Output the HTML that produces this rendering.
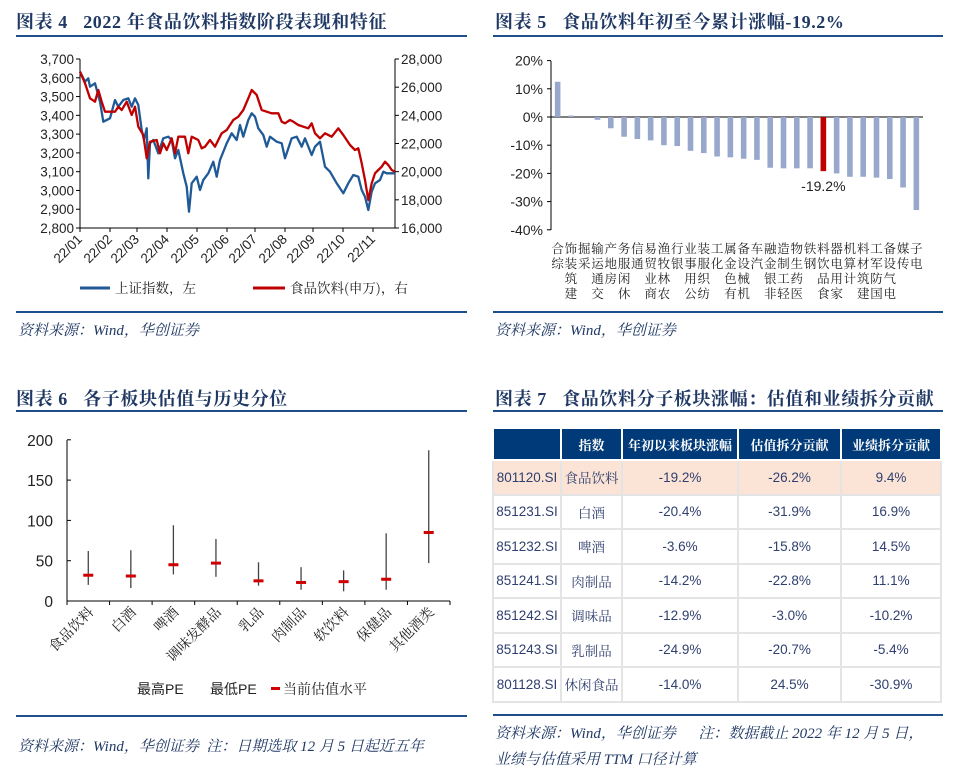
<!DOCTYPE html>
<html><head><meta charset="utf-8">
<style>
*{margin:0;padding:0;box-sizing:border-box}
body{width:957px;height:777px;background:#fff;position:relative;overflow:hidden;font-family:"Liberation Sans","Noto Sans CJK SC",sans-serif}
.t{position:absolute;font-family:"Liberation Serif","Noto Serif CJK SC",serif;font-weight:bold;font-size:18px;letter-spacing:0.6px;color:#1F3864;white-space:nowrap}
.ln{position:absolute;height:2px;background:#1F4E8C}
.src{position:absolute;font-family:"Liberation Serif","Noto Serif CJK SC",serif;font-style:italic;font-size:15px;color:#1F3864;white-space:nowrap}
table{position:absolute;left:492px;top:427px;width:450px;border-collapse:collapse;font-size:13.5px;color:#2F3F6F}
td{border:2px solid #e4e4e4;height:34.5px;text-align:center;padding:0}
th{background:#003A78;color:#fff;border:2px solid #fff;height:32px;font-family:"Liberation Serif","Noto Serif CJK SC",serif;font-size:13px}
td.c{font-family:"Noto Serif CJK SC",serif}
tr.h td{background:#FBE3D6}
</style></head><body>
<div class="t" style="left:16px;top:8px">图表 4&nbsp;&nbsp;&nbsp;2022 年食品饮料指数阶段表现和特征</div>
<div class="ln" style="left:16px;top:35px;width:451px"></div>
<div class="t" style="left:495px;top:8px">图表 5&nbsp;&nbsp;&nbsp;食品饮料年初至今累计涨幅-19.2%</div>
<div class="ln" style="left:493px;top:35px;width:450px"></div>
<div class="ln" style="left:16px;top:311px;width:451px"></div>
<div class="ln" style="left:493px;top:311px;width:450px"></div>
<div class="src" style="left:18px;top:319px">资料来源：Wind，华创证券</div>
<div class="src" style="left:495px;top:319px">资料来源：Wind，华创证券</div>
<div class="t" style="left:16px;top:385px">图表 6&nbsp;&nbsp;&nbsp;各子板块估值与历史分位</div>
<div class="ln" style="left:16px;top:410px;width:451px"></div>
<div class="t" style="left:495px;top:385px">图表 7&nbsp;&nbsp;&nbsp;食品饮料分子板块涨幅：估值和业绩拆分贡献</div>
<div class="ln" style="left:493px;top:410px;width:450px"></div>
<div class="ln" style="left:16px;top:715px;width:451px"></div>
<div class="ln" style="left:493px;top:714px;width:450px"></div>
<div class="src" style="left:18px;top:735px">资料来源：Wind，华创证券&nbsp;&nbsp;注：日期选取 12 月 5 日起近五年</div>
<div class="src" style="left:495px;top:722px">资料来源：Wind，华创证券&nbsp;&nbsp;&nbsp;&nbsp;&nbsp;&nbsp;注：数据截止 2022 年 12 月 5 日，</div>
<div class="src" style="left:495px;top:748px">业绩与估值采用 TTM 口径计算</div>

<svg id="s1" style="position:absolute;left:0;top:0" width="957" height="777" font-family="Liberation Sans, Noto Sans CJK SC, sans-serif">
</svg>

<table>
<tr><th></th><th>指数</th><th>年初以来板块涨幅</th><th>估值拆分贡献</th><th>业绩拆分贡献</th></tr>
<tr class="h"><td style="width:68px">801120.SI</td><td class="c" style="width:61px">食品饮料</td><td style="width:116px">-19.2%</td><td style="width:103px">-26.2%</td><td>9.4%</td></tr>
<tr><td>851231.SI</td><td class="c">白酒</td><td>-20.4%</td><td>-31.9%</td><td>16.9%</td></tr>
<tr><td>851232.SI</td><td class="c">啤酒</td><td>-3.6%</td><td>-15.8%</td><td>14.5%</td></tr>
<tr><td>851241.SI</td><td class="c">肉制品</td><td>-14.2%</td><td>-22.8%</td><td>11.1%</td></tr>
<tr><td>851242.SI</td><td class="c">调味品</td><td>-12.9%</td><td>-3.0%</td><td>-10.2%</td></tr>
<tr><td>851243.SI</td><td class="c">乳制品</td><td>-24.9%</td><td>-20.7%</td><td>-5.4%</td></tr>
<tr><td>801128.SI</td><td class="c">休闲食品</td><td>-14.0%</td><td>24.5%</td><td>-30.9%</td></tr>
</table>

<script>
var s=document.getElementById('s1'),h='';
var SER='font-family="Noto Serif CJK SC,serif"';
function L(x1,y1,x2,y2,c,w){h+='<line x1="'+x1+'" y1="'+y1+'" x2="'+x2+'" y2="'+y2+'" stroke="'+c+'" stroke-width="'+(w||1)+'"/>';}
function T(x,y,t,a,fs,extra){h+='<text x="'+x+'" y="'+y+'" text-anchor="'+(a||'start')+'" font-size="'+(fs||13)+'" fill="#222" '+(extra||'')+'>'+t+'</text>';}
// chart 1
var X0=80,X1=395,Y0=59,Y1=228;
L(X0,Y0,X0,Y1,'#000');L(X1,Y0,X1,Y1,'#000');L(X0,Y1,X1,Y1,'#000');
for(var i=0;i<10;i++){var y=Y0+i*(Y1-Y0)/9;L(X0-4,y,X0,y,'#000');T(X0-6,y+5,(3700-i*100).toLocaleString('en-US'),'end',13.5);}
for(var i=0;i<7;i++){var y=Y0+i*(Y1-Y0)/6;L(X1,y,X1+4,y,'#000');T(X1+6,y+5,(28000-i*2000).toLocaleString('en-US'),'start',13.5);}
var tx=[80,110,137,167,197,227,255,285,313,343,373];
for(var i=0;i<11;i++){L(tx[i],Y1,tx[i],Y1+4,'#000');var m=(i+1<10?'0':'')+(i+1);T(tx[i]+3,Y1+12,'22/'+m,'end',13.5,'transform="rotate(-45 '+(tx[i]+3)+' '+(Y1+12)+')"');}
var b=[240,95,255,125,265,115,270,140,285,130,300,185,310,245,330,235,345,180,355,200,370,180,385,175,395,200,405,175,415,195,425,270,432,300,440,265,445,415,450,310,460,300,475,340,490,295,505,290,515,300,525,355,535,330,550,400,560,440,567,515,575,430,590,410,600,450,610,420,625,400,640,365,650,410,660,360,680,310,695,280,710,300,720,255,730,290,745,240,755,220,765,230,775,265,790,285,800,320,810,290,830,305,845,310,855,355,860,340,875,295,890,290,905,320,915,295,935,345,945,320,960,305,975,380,990,395,1010,430,1030,460,1045,430,1060,405,1075,410,1085,450,1095,470,1105,510,1115,455,1125,430,1140,420,1150,395,1160,400,1175,400,1185,400];
var r=[240,95,255,130,270,175,285,185,295,150,305,185,315,215,345,215,355,200,365,210,380,185,395,225,405,200,415,260,430,285,440,355,450,305,470,300,480,340,490,310,500,330,515,295,525,340,535,290,555,290,565,340,575,290,595,300,605,325,615,320,630,300,645,320,655,300,665,280,680,270,700,240,715,230,730,210,745,175,755,150,770,165,785,210,800,215,815,220,835,220,845,245,855,250,870,240,880,245,895,255,910,260,925,265,935,250,945,280,960,295,975,280,995,290,1015,265,1030,285,1050,315,1065,330,1075,325,1085,370,1095,420,1105,480,1115,430,1125,400,1135,390,1145,380,1155,365,1165,375,1175,390,1185,395];
function P(a,c){var p='';for(var i=0;i<a.length;i+=2){p+=(a[i]/3).toFixed(1)+','+(a[i+1]/3+40).toFixed(1)+' ';}h+='<polyline points="'+p+'" fill="none" stroke="'+c+'" stroke-width="2.3" stroke-linejoin="round"/>';}
P(b,'#1F5A96');P(r,'#C00000');
L(80,288,110,288,'#1F5A96',3);T(115,293,'上证指数，左','start',13.5,SER);
L(253,288,285,288,'#C00000',3);T(290,293,'食品饮料(申万)，右','start',13.5,SER);
// chart 2
var A=551,B=923,Z=117,k=2.82;
L(A,61,A,230,'#000');L(A,Z,B,Z,'#000');
for(var i=0;i<7;i++){var v=20-i*10,y=Z-v*k;L(A-4,y,A,y,'#000');T(A-8,y+5,v+'%','end',14);}
var cats=['综合','建筑装饰','采掘','交通运输','房地产','休闲服务','通信','商业贸易','农林牧渔','银行','公用事业','纺织服装','化工','有色金属','机械设备','汽车','非银金融','轻工制造','医药生物','钢铁','食品饮料','家用电器','计算机','建筑材料','国防军工','电气设备','传媒','电子'];
var vals=[12.5,0.5,0,-1,-4,-7,-7.8,-8.3,-10,-10.3,-12,-12.8,-14,-14.3,-14.8,-15.2,-18,-18.2,-18.2,-18.2,-19.2,-20,-21.2,-21.2,-21.5,-22,-25,-33];
var w=(B-A)/28;
for(var i=0;i<28;i++){var cx=A+w*(i+0.5),v=vals[i],y=v>0?Z-v*k:Z,hh=Math.abs(v)*k;
 h+='<rect x="'+(cx-2.8)+'" y="'+y+'" width="5.6" height="'+hh+'" fill="'+(i==20?'#C00000':'#98A8CC')+'"/>';
 var c=cats[i];for(var j=0;j<c.length;j++){T(cx,253+j*15,c[c.length-1-j],'middle',12.5,SER);}}
T(A+w*20.5,191,'-19.2%','middle',14);
// chart 3
var A3=67,B3=450,Y03=601,s3=40.3/50;
L(A3,440,A3,Y03,'#000');L(A3,Y03,B3,Y03,'#000');
for(var i=0;i<5;i++){var y=Y03-i*50*s3;L(A3,y,A3+4,y,'#000');T(A3-14,y+6,i*50,'end',15.5);}
var cw=(B3-A3)/9;for(var i=0;i<=9;i++)L(A3+i*cw,Y03,A3+i*cw,Y03+4,'#000');
var cn=['食品饮料','白酒','啤酒','调味发酵品','乳品','肉制品','软饮料','保健品','其他酒类'];
var d=[[62,20,32],[63,16,31],[94,33,45],[77,30,47],[48,19,25],[42,14,23],[38,12,24],[84,14,27],[187,47,85]];
for(var i=0;i<9;i++){var cx=A3+cw*(i+0.5);L(cx,Y03-d[i][0]*s3,cx,Y03-d[i][1]*s3,'#444',1.3);
 var y=Y03-d[i][2]*s3;h+='<rect x="'+(cx-5)+'" y="'+(y-1.5)+'" width="10" height="3" fill="#D00000"/>';
 var lx=cx+6,ly=613;T(lx,ly,cn[i],'end',14,SER+' transform="rotate(-45 '+lx+' '+ly+')"');}
T(137,694,'最高PE','start',14);T(210,694,'最低PE','start',14);
h+='<rect x="271" y="687" width="9" height="3" fill="#D00000"/>';T(283,694,'当前估值水平','start',14,SER);
s.innerHTML=h;
</script>
</body></html>
